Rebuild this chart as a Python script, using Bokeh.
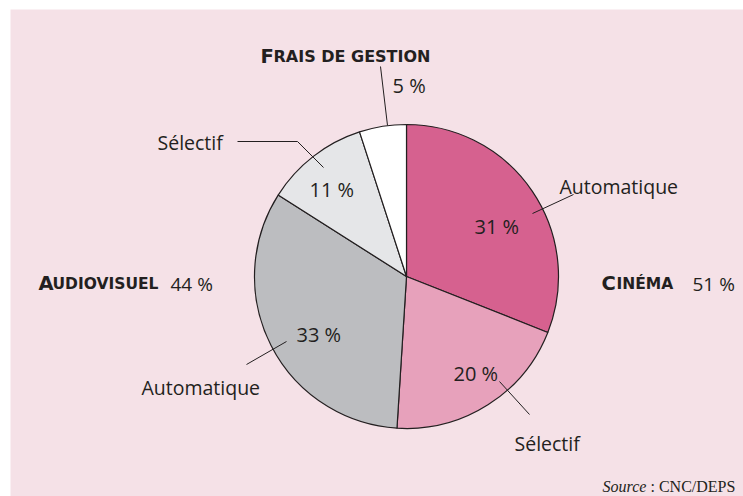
import numpy as np
from bokeh.plotting import figure
from bokeh.models import Range1d, ColumnDataSource
from bokeh.core.properties import value
from bokeh.embed import file_html
from bokeh.resources import INLINE

# ---- data ----
slices = ["Cinéma automatique", "Cinéma sélectif", "Audiovisuel automatique",
          "Audiovisuel sélectif", "Frais de gestion"]
shares = [31, 20, 33, 11, 5]
share_labels = ["31 %", "20 %", "33 %", "11 %", "5 %"]
colors = ["#d6618f", "#e7a1bb", "#bcbdc0", "#e5e6e8", "#ffffff"]
sub_labels = ["Automatique", "Sélectif", "Automatique", "Sélectif"]
group_totals = ["51 %", "44 %"]
source_note = ["Source", ": CNC/DEPS"]

INK = "#231f20"
BG = "#f5e1e7"
LABEL_FONT = "Open Sans"
SC_FONT = "DejaVu Sans"

W, H = 743, 496
p = figure(width=W, height=H, output_backend="svg", toolbar_location=None,
           x_axis_location=None, y_axis_location=None,
           x_range=Range1d(10, 743), y_range=Range1d(-496, -9),
           min_border_left=10, min_border_top=9, min_border_right=0, min_border_bottom=0)
p.background_fill_color = BG
p.border_fill_color = "white"
p.outline_line_color = None
p.xgrid.visible = False
p.ygrid.visible = False

# page coords -> data coords helper (y flipped)
def Y(y):
    return -y

# ---- pie ----
cx, cy, r = 406, Y(276), 152
frac = np.array(shares, dtype=float) / sum(shares)
cum = np.concatenate([[0], np.cumsum(frac)])
start = np.pi / 2 - cum[:-1] * 2 * np.pi
end = np.pi / 2 - cum[1:] * 2 * np.pi
src = ColumnDataSource(dict(start=start, end=end, color=colors, name=slices))
p.wedge(x=cx, y=cy, radius=r, start_angle="start", end_angle="end",
        direction="clock", fill_color="color", line_color=INK, line_width=1.2,
        source=src)

# ---- percentage labels inside/outside slices ----
pct_pos = [(474, 226), (453, 373), (296, 334), (309, 189), (392, 85)]
p.text(x=[q[0] for q in pct_pos], y=[Y(q[1]) for q in pct_pos], text=share_labels,
       text_font=value(LABEL_FONT), text_font_size="20px", text_color=INK,
       text_align="left", text_baseline="alphabetic")

# ---- sub labels ----
sub_pos = [(559, 186), (514, 443), (141, 387), (157, 142)]
p.text(x=[q[0] for q in sub_pos], y=[Y(q[1]) for q in sub_pos], text=sub_labels,
       text_font=value(LABEL_FONT), text_font_size="19.5px", text_color=INK,
       text_align="left", text_baseline="alphabetic")

# ---- leader lines ----
leaders = [
    [(380, 66), (387, 125)],
    [(237, 141), (297, 141), (323, 167)],
    [(573, 194), (532, 213)],
    [(286, 341), (246, 364)],
    [(499, 381), (529, 414)],
]
p.multi_line(xs=[[a[0] for a in l] for l in leaders],
             ys=[[Y(a[1]) for a in l] for l in leaders],
             line_color=INK, line_width=1)

# ---- small-caps group titles ----
def small_caps(first, rest, x, base, gap, size):
    p.text(x=[x], y=[Y(base)], text=[first], text_font=value(SC_FONT),
           text_font_style="bold", text_font_size="19.5px", text_color=INK,
           text_align="left", text_baseline="alphabetic")
    p.text(x=[x + gap], y=[Y(base)], text=[rest], text_font=value(SC_FONT),
           text_font_style="bold", text_font_size=size, text_color=INK,
           text_align="left", text_baseline="alphabetic")

small_caps("F", "RAIS DE GESTION", 260, 56, 13, "16px")
small_caps("C", "INÉMA", 601, 283, 15, "15.5px")
small_caps("A", "UDIOVISUEL", 38, 283, 14, "15.5px")

p.text(x=[692, 170], y=[Y(283), Y(283)], text=group_totals,
       text_font=value(LABEL_FONT), text_font_size="19px", text_color=INK,
       text_align="left", text_baseline="alphabetic")

# ---- source ----
p.text(x=[602], y=[Y(486)], text=[source_note[0]], text_font=value("Liberation Serif"),
       text_font_style="italic", text_font_size="16px", text_color=INK,
       text_align="left", text_baseline="alphabetic")
p.text(x=[650], y=[Y(486)], text=[source_note[1]], text_font=value("Liberation Serif"),
       text_font_size="16px", text_color=INK,
       text_align="left", text_baseline="alphabetic")

open("out.html", "w").write(file_html(p, INLINE))
